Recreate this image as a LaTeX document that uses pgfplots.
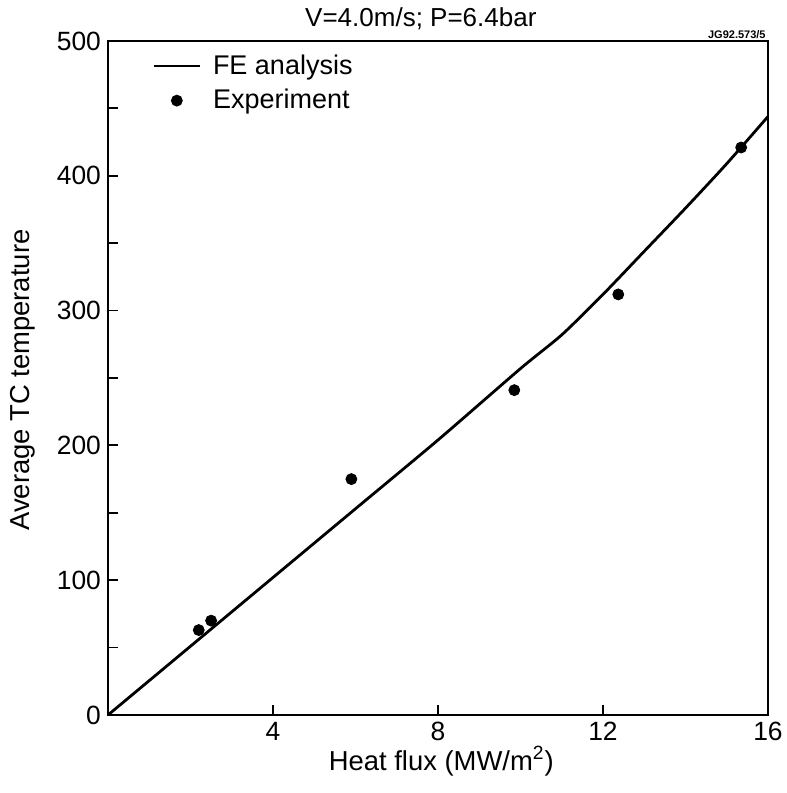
\documentclass[border=0pt]{standalone}
\usepackage{fontspec}
\setmainfont{Liberation Sans}
\usepackage{pgfplots}
\pgfplotsset{compat=1.18}

\begin{document}
\begin{tikzpicture}
\begin{axis}[
    name=ax,
    scale only axis,
    width=330pt, height=337pt,
    xmin=0, xmax=16, ymin=0, ymax=500,
    xtick={4,8,12,16},
    ytick={0,100,...,500},
    minor ytick={50,150,...,450},
    tick align=inside,
    major tick length=5pt, minor tick length=5pt,
    tick style={black, line width=0.9pt},
    axis line style={line width=1.4pt},
    xtick pos=bottom, ytick pos=left,
    /pgf/number format/assume math mode=true,
    tick label style={font=\fontsize{13.2}{15}\selectfont},
    label style={font=\fontsize{13.7}{15}\selectfont},
    xlabel={Heat flux (MW/m\textsuperscript{2})},
    ylabel={Average TC temperature},
    xlabel style={at={(axis description cs:0.505,-0.0816)}, anchor=base},
    ylabel style={at={(axis description cs:-0.129,0.497)}, anchor=center},
    every axis title shift=0pt,
    title={V=4.0m/s; P=6.4bar},
    title style={font=\fontsize{13}{15}\selectfont, at={(axis description cs:0.474,1.021)}, anchor=base},
    legend style={draw=none, fill=none, at={(axis description cs:0.058,0.992)}, anchor=north west,
        font=\fontsize{13.5}{15}\selectfont, row sep=2pt, column sep=4pt},
    legend image code/.code={\draw[mark repeat=2, mark phase=2, #1]
        plot coordinates {(0cm,0cm) (0.4cm,0cm) (0.8cm,0cm)};},
    legend cell align=left,
    clip=false,
]
\addplot[black, line width=1.4pt, smooth, tension=0.4] coordinates {
    (0,0) (2,51) (4,102) (6,153) (8,204) (10,257) (11,282)
    (12,312) (13,344) (14,376) (15,409) (16,444)
};
\addlegendentry{FE analysis}
\addplot[only marks, mark=*, mark size=2.75pt, black] coordinates {
    (2.2,63) (2.5,70) (5.9,175) (9.85,241) (12.37,312) (15.35,421)
};
\addlegendentry{Experiment}
\node[anchor=south east, font=\bfseries\fontsize{5.5}{6}\selectfont, inner sep=1pt]
    at (rel axis cs:1,1) {JG92.573/5};
\end{axis}
\pgfresetboundingbox
\path ([shift={(-54pt,-39pt)}]ax.south west) rectangle ([shift={(9.5pt,20.5pt)}]ax.north east);
\end{tikzpicture}
\end{document}
